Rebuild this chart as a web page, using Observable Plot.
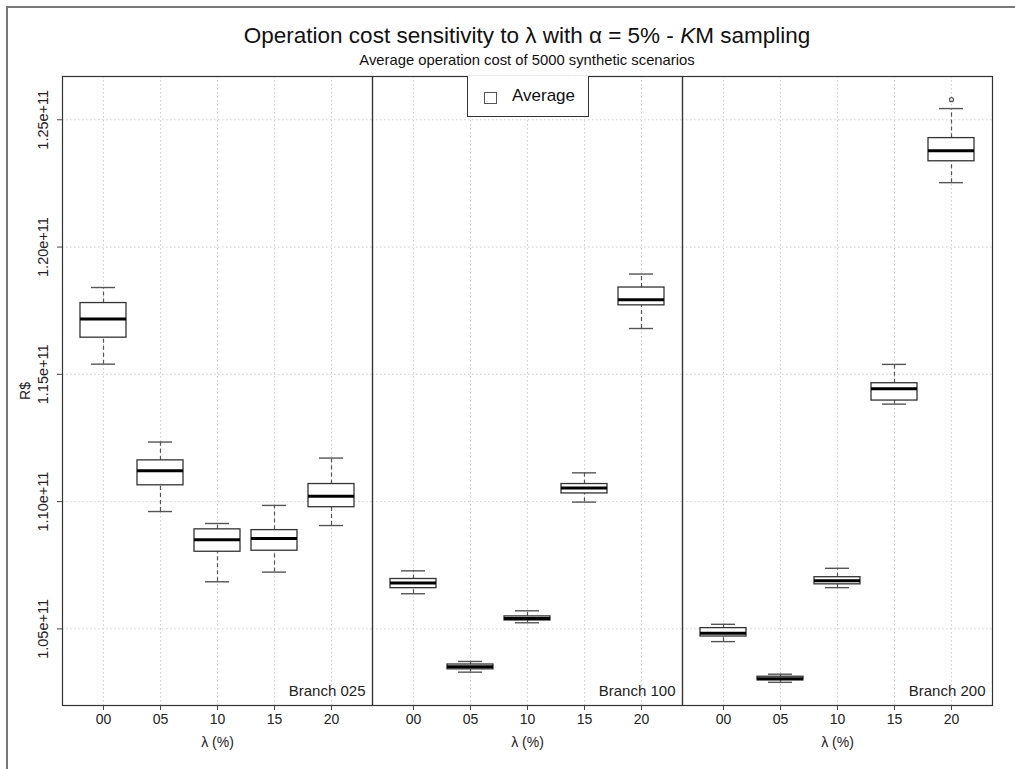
<!DOCTYPE html>
<html>
<head>
<meta charset="utf-8">
<script src="https://cdn.jsdelivr.net/npm/d3@7"></script>
<script src="https://cdn.jsdelivr.net/npm/@observablehq/plot@0.6"></script>
<style>
  html, body { margin: 0; background: #fff; overflow: hidden; }
  #wrap { position: relative; width: 1015px; height: 769px; overflow: hidden; font-family: "Liberation Sans", Arial, sans-serif; color: #111; }
  #bleft { position: absolute; left: 6px; top: 6px; width: 2px; height: 763px; background: #777; }
  #btop { position: absolute; left: 6px; top: 6px; width: 1009px; height: 2px; background: #777; }
  #chart { position: absolute; left: 0; top: 0; }
  #title { position: absolute; left: 62px; width: 930px; top: 24px; text-align: center; font-size: 22.5px; line-height: 24px; white-space: nowrap; }
  #subtitle { position: absolute; left: 62px; width: 930px; top: 52px; text-align: center; font-size: 14.8px; line-height: 16px; white-space: nowrap; }
  #legend { position: absolute; left: 467px; top: 76px; width: 122px; height: 41px; border: 1px solid #333; border-top: none; background: #fff; box-sizing: border-box; }
  #legend .sw { position: absolute; left: 16px; top: 16px; width: 11px; height: 10px; border: 1px solid #555; background: #fff; }
  #legend .lb { position: absolute; left: 44px; top: 10px; font-size: 17px; line-height: 19px; }
</style>
</head>
<body>
<div id="wrap">
  <div id="bleft"></div>
  <div id="btop"></div>
  <div id="chart"></div>
  <div id="title">Operation cost sensitivity to λ with α = 5% - <i>K</i>M sampling</div>
  <div id="subtitle">Average operation cost of 5000 synthetic scenarios</div>
  <div id="legend"><div class="sw"></div><div class="lb">Average</div></div>
</div>
<script>
// Categories
const lambdas = ["00", "05", "10", "15", "20"];
const branches = ["Branch 025", "Branch 100", "Branch 200"];

// Box statistics in units of 1e11 R$, ordered Branch 025 (00..20), Branch 100 (00..20), Branch 200 (00..20)
const lowerWhisker = [1.1540, 1.0961, 1.0685, 1.0723, 1.0906,
                      1.0638, 1.0330, 1.0524, 1.0998, 1.1680,
                      1.0450, 1.0290, 1.0662, 1.1383, 1.2253];
const lowerQuartile = [1.1644, 1.1064, 1.0803, 1.0807, 1.0978,
                       1.0660, 1.0341, 1.0533, 1.1032, 1.1771,
                       1.0470, 1.0298, 1.0675, 1.1397, 1.2337];
const medianValue = [1.1717, 1.1121, 1.0850, 1.0855, 1.1021,
                     1.0680, 1.0351, 1.0541, 1.1053, 1.1793,
                     1.0483, 1.0304, 1.0689, 1.1443, 1.2378];
const upperQuartile = [1.1780, 1.1162, 1.0891, 1.0888, 1.1069,
                       1.0696, 1.0360, 1.0549, 1.1069, 1.1841,
                       1.0503, 1.0312, 1.0703, 1.1465, 1.2428];
const upperWhisker = [1.1841, 1.1234, 1.0914, 1.0985, 1.1171,
                      1.0728, 1.0372, 1.0571, 1.1113, 1.1894,
                      1.0518, 1.0322, 1.0738, 1.1539, 1.2544];

// Outliers
const outlierBranch = ["Branch 200"];
const outlierLambda = ["20"];
const outlierValue = [1.2579];

// Y tick values (1e11 units)
const yTickValues = [1.05, 1.10, 1.15, 1.20, 1.25];

const S = 1e11;
const rows = [];
branches.forEach((b, i) => lambdas.forEach((l, j) => {
  const k = i * lambdas.length + j;
  rows.push({branch: b, lambda: l,
    lo: lowerWhisker[k] * S, q1: lowerQuartile[k] * S, med: medianValue[k] * S,
    q3: upperQuartile[k] * S, hi: upperWhisker[k] * S});
}));
const outliers = outlierValue.map((v, i) => ({branch: outlierBranch[i], lambda: outlierLambda[i], value: v * S}));
const yTicks = yTickValues.map(v => v * S);
const fmt = d => (d / S).toFixed(2) + "e+11";

const chart = Plot.plot({
  width: 1015,
  height: 769,
  marginLeft: 62,
  marginRight: 23,
  marginTop: 76,
  marginBottom: 64,
  style: {fontFamily: "'Liberation Sans', Arial, sans-serif", fontSize: "14px", color: "#222", background: "transparent"},
  fx: {domain: branches, padding: 0, axis: null, label: null},
  x: {type: "band", domain: lambdas, paddingInner: 0.19, paddingOuter: 0.295, label: null},
  y: {domain: [1.0199e11, 1.2670e11], label: null},
  marks: [
    Plot.gridY(yTicks, {stroke: "#cfcfcf", strokeOpacity: 1, strokeDasharray: "1.5,2.5"}),
    Plot.gridX({stroke: "#cfcfcf", strokeOpacity: 1, strokeDasharray: "1.5,2.5"}),
    Plot.ruleX(rows, {fx: "branch", x: "lambda", y1: "q3", y2: "hi", stroke: "#555", strokeWidth: 1.2, strokeDasharray: "4,3"}),
    Plot.ruleX(rows, {fx: "branch", x: "lambda", y1: "lo", y2: "q1", stroke: "#555", strokeWidth: 1.2, strokeDasharray: "4,3"}),
    Plot.tickY(rows, {fx: "branch", x: "lambda", y: "hi", stroke: "#555", strokeWidth: 1.4, insetLeft: 11, insetRight: 11}),
    Plot.tickY(rows, {fx: "branch", x: "lambda", y: "lo", stroke: "#555", strokeWidth: 1.4, insetLeft: 11, insetRight: 11}),
    Plot.barY(rows, {fx: "branch", x: "lambda", y1: "q1", y2: "q3", fill: "white", stroke: "#333", strokeWidth: 1.3}),
    Plot.tickY(rows, {fx: "branch", x: "lambda", y: "med", stroke: "#000", strokeWidth: 3}),
    Plot.dot(outliers, {fx: "branch", x: "lambda", y: "value", r: 2, stroke: "#555", fill: "none", strokeWidth: 1.2}),
    Plot.frame({stroke: "#333", strokeWidth: 1.2}),
    Plot.axisX({tickSize: 5, tickPadding: 4, fontSize: 14, label: null, stroke: "#444"}),
    Plot.axisY(yTicks, {tickSize: 5, tickFormat: () => "", label: null, facetAnchor: "left", stroke: "#444"}),
    Plot.text(yTicks, {fx: () => branches[0], y: d => d, text: fmt, frameAnchor: "left", dx: -19, rotate: -90, textAnchor: "middle", fontSize: 14.5, fill: "#222"}),
    Plot.text(["R$"], {fx: () => branches[0], frameAnchor: "left", dx: -37, rotate: -90, textAnchor: "middle", fontSize: 14, fill: "#222"}),
    Plot.text(branches, {fx: d => d, text: d => d, frameAnchor: "bottom-right", dx: -7, dy: -10, fontSize: 15, fill: "#222"}),
    Plot.text(branches, {fx: d => d, text: () => "λ (%)", frameAnchor: "bottom", lineAnchor: "middle", dy: 37, fontSize: 14, fill: "#222"})
  ]
});
document.getElementById("chart").appendChild(chart);
</script>
</body>
</html>
